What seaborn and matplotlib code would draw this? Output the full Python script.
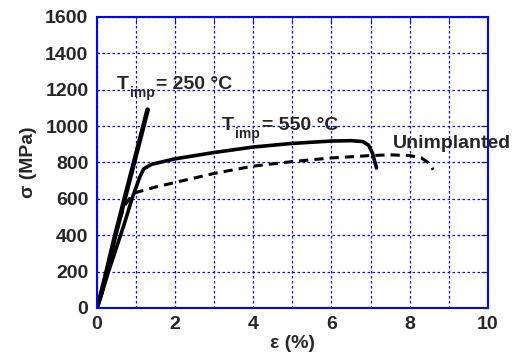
import matplotlib
matplotlib.use("Agg")
import matplotlib.pyplot as plt
import seaborn as sns

# strain (%) / stress (MPa) curves
eps_250 = [0, 0.1, 0.25, 0.45, 0.7, 1.0, 1.3]
sig_250 = [0, 70, 200, 380, 590, 840, 1090]

eps_550 = [0, 0.1, 0.3, 0.5, 0.7, 0.9, 1.0, 1.1, 1.2, 1.4, 1.7, 2.0, 3.0,
           4.0, 5.0, 6.0, 6.5, 6.8, 6.95, 7.05, 7.15]
sig_550 = [0, 60, 200, 330, 460, 600, 660, 720, 765, 790, 805, 820, 855,
           885, 905, 918, 920, 915, 895, 850, 770]

eps_un = [0, 0.1, 0.3, 0.5, 0.7, 0.9, 1.0, 1.5, 2.0, 3.0, 4.0, 5.0, 6.0,
          7.0, 7.5, 8.0, 8.3, 8.5, 8.6]
sig_un = [0, 70, 230, 420, 560, 620, 635, 665, 690, 740, 780, 805, 825,
          838, 842, 838, 825, 795, 760]

x_ticks = [0, 2, 4, 6, 8, 10]
y_ticks = [0, 200, 400, 600, 800, 1000, 1200, 1400, 1600]


def t_label(ax, x, y, rest):
    # T with a dropped "imp" subscript, then the rest of the label
    ax.text(x, y, 'T', fontsize=14, fontweight='bold', va='baseline')
    ax.annotate('imp', (x, y), xytext=(9.6, -6), textcoords='offset points',
                fontsize=10, fontweight='bold', va='baseline')
    ax.annotate(rest, (x, y), xytext=(28.5, 0), textcoords='offset points',
                fontsize=14, fontweight='bold', va='baseline')


def main():
    sns.set_style("white")
    plt.rcParams['font.family'] = ['Liberation Sans', 'DejaVu Sans']
    plt.rcParams['font.weight'] = 'bold'

    fig = plt.figure(figsize=(5.12, 3.54), dpi=100)
    ax = fig.add_axes([0.189, 0.130, 0.764, 0.822])

    sns.lineplot(x=eps_250, y=sig_250, ax=ax, color='black', lw=3.4,
                 sort=False, estimator=None)
    sns.lineplot(x=eps_550, y=sig_550, ax=ax, color='black', lw=2.6,
                 sort=False, estimator=None)
    sns.lineplot(x=eps_un, y=sig_un, ax=ax, color='black', lw=2.2,
                 sort=False, estimator=None, linestyle=(0, (3, 2)))

    ax.set_xlim(0, 10)
    ax.set_ylim(0, 1600)
    ax.set_xticks(x_ticks)
    ax.set_xticks(range(1, 10, 2), minor=True)
    ax.set_yticks(y_ticks)
    ax.grid(True, which='both', color='blue', linestyle=(0, (2, 2)), lw=0.9)
    for s in ax.spines.values():
        s.set_color('blue')
        s.set_linewidth(1.5)
    ax.tick_params(which='both', direction='in', color='blue', length=5,
                   top=True, right=True, labelsize=14, pad=6)
    for lab in ax.get_xticklabels() + ax.get_yticklabels():
        lab.set_fontweight('bold')

    ax.set_xlabel('ε (%)', fontsize=14, fontweight='bold', labelpad=1)
    ax.set_ylabel('σ (MPa)', fontsize=14, fontweight='bold', labelpad=6)

    t_label(ax, 0.5, 1205, '= 250 °C')
    t_label(ax, 3.2, 979, '= 550 °C')
    ax.text(7.57, 880, 'Unimplanted', fontsize=14, fontweight='bold',
            va='baseline', clip_on=False)

    fig.savefig('out.png', dpi=100)


if __name__ == "__main__":
    main()
